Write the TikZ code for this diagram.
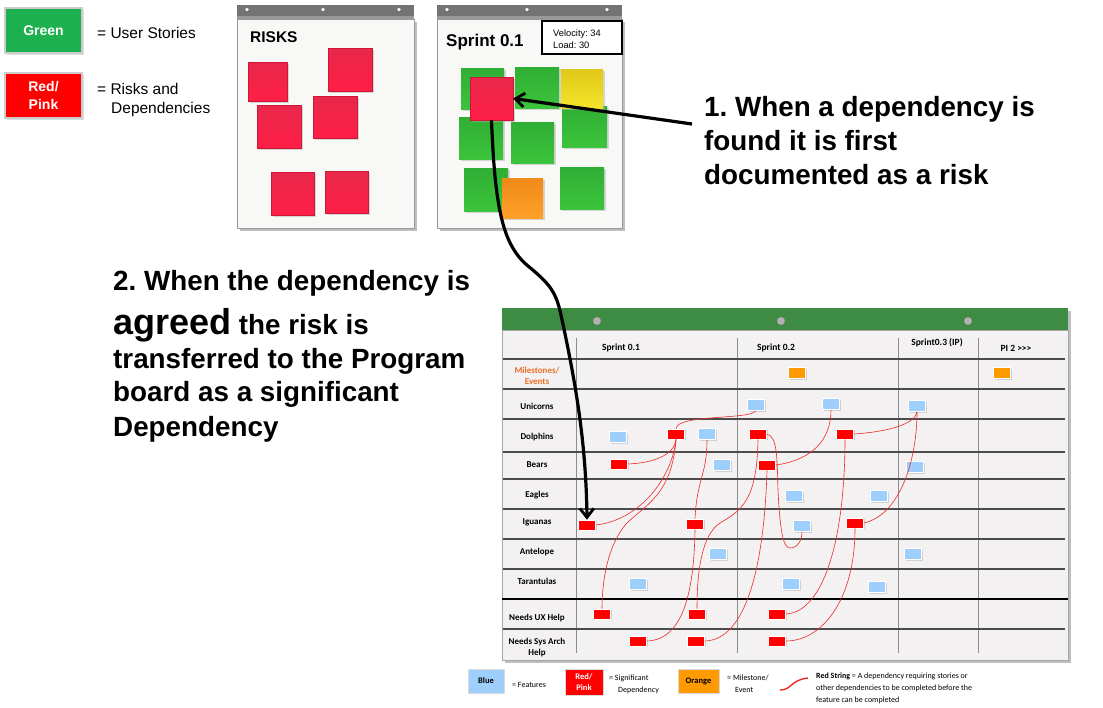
\documentclass[tikz,border=0pt]{standalone}
\usepackage{fontspec}
\setmainfont{Liberation Sans}
\newfontfamily\calfont{Carlito}
\usetikzlibrary{arrows.meta,shadows,calc}
\frenchspacing
\definecolor{legendgreen}{HTML}{1DB04F}
\definecolor{stickyred}{HTML}{FF1E46}
\definecolor{stickyredtop}{HTML}{E8284A}
\definecolor{stickygreen}{HTML}{3CC43C}
\definecolor{stickygreentop}{HTML}{2FAE34}
\definecolor{stickyyellow}{HTML}{F5E52A}
\definecolor{stickyyellowtop}{HTML}{E0C81A}
\definecolor{stickyorange}{HTML}{FFA02A}
\definecolor{stickyorangetop}{HTML}{F08A18}
\definecolor{boardgreen}{HTML}{3E8B43}
\definecolor{boardbg}{HTML}{F3F1F1}
\definecolor{cardblue}{HTML}{9ECFFC}
\definecolor{cardorange}{HTML}{FF9A00}
\definecolor{stringred}{HTML}{EE2A2A}
\definecolor{mileorange}{HTML}{E8702A}
\definecolor{flipbg}{HTML}{F8F8F6}
\tikzset{
  bigtext/.style={anchor=base west, inner sep=0, font=\bfseries\fontsize{27.8}{28}\selectfont},
  legtext/.style={anchor=base west, inner sep=0, font=\fontsize{15.5}{16}\selectfont},
  sticky/.style={inner sep=0, drop shadow={shadow xshift=1.5pt, shadow yshift=-1.5pt, fill=black!30}},
  redsticky/.style={sticky, top color=stickyredtop, bottom color=stickyred, draw=stickyred!80!black, line width=0.3pt},
  greensticky/.style={sticky, top color=stickygreentop, bottom color=stickygreen},
  card/.style={inner sep=0, minimum width=17pt, minimum height=11pt, draw=white, line width=0.6pt,
     drop shadow={shadow xshift=1.3pt, shadow yshift=-1.3pt, fill=black!30}},
  bluecard/.style={card, fill=cardblue},
  redcard/.style={card, fill=red, minimum height=10pt},
  orangecard/.style={card, fill=cardorange},
  redstring/.style={draw=stringred, line width=0.6pt},
  rowlabel/.style={anchor=base, inner sep=0, font=\calfont\bfseries\fontsize{9}{10}\selectfont},
  colhead/.style={anchor=base, inner sep=0, font=\calfont\bfseries\fontsize{9.5}{10}\selectfont},
  smalltext/.style={anchor=base west, inner sep=0, font=\calfont\fontsize{8}{9}\selectfont},
  bigarrow/.style={line width=3.2pt, -{Straight Barb[length=9pt,width=14pt,line width=2.8pt]}},
  hline/.style={draw=black!70, line width=1.1pt},
  vline/.style={draw=black!45, line width=0.8pt},
}
\begin{document}
\begin{tikzpicture}[x=1pt,y=-1pt]
\useasboundingbox[fill=white] (0,0) rectangle (1103,707);

% ---------- top-left legend ----------
\node[draw=black!20, line width=2pt, fill=legendgreen, minimum width=77pt, minimum height=45pt,
  drop shadow={shadow xshift=1.5pt,shadow yshift=-1.5pt,fill=black!25},
  text=white, font=\bfseries\fontsize{14}{15}\selectfont] (lgreen) at (43.5,30.5) {Green};
\node[legtext] (lgreentxt) at (97,38) {= User Stories};
\node[draw=black!20, line width=2pt, fill=red, minimum width=77pt, minimum height=45pt,
  drop shadow={shadow xshift=1.5pt,shadow yshift=-1.5pt,fill=black!25},
  text=white, align=center, font=\bfseries\fontsize{14}{18}\selectfont] (lred) at (43.5,95.5) {Red/\\Pink};
\node[legtext] (lredtxt1) at (97,94) {= Risks and};
\node[legtext] (lredtxt2) at (111,113) {Dependencies};

% ---------- RISKS flip chart ----------
\fill[black!25] (240,22) rectangle (417,231);
\fill[flipbg, draw=black!40, line width=0.8pt] (237,19) rectangle (414,228);
\fill[black!55] (237,5) rectangle (414,19);
\fill[black!40] (237,16) rectangle (414,19);
\foreach \x in {247,323,399} \fill[white] (\x,9.5) circle (1.8);
\node[anchor=base west, inner sep=0, font=\bfseries\fontsize{15.5}{16}\selectfont] (risks) at (250,42) {RISKS};
\node[redsticky, minimum width=39pt, minimum height=39pt] (rk1) at (267.5,81.5) {};
\node[redsticky, minimum width=44pt, minimum height=43pt] (rk2) at (350,69.5) {};
\node[redsticky, minimum width=44pt, minimum height=43pt] (rk3) at (279,126.5) {};
\node[redsticky, minimum width=44pt, minimum height=42pt] (rk4) at (335,117) {};
\node[redsticky, minimum width=43pt, minimum height=43pt] (rk5) at (292.5,193.5) {};
\node[redsticky, minimum width=43pt, minimum height=42pt] (rk6) at (346.5,192) {};

% ---------- Sprint 0.1 flip chart ----------
\fill[black!25] (440,22) rectangle (625,231);
\fill[flipbg, draw=black!40, line width=0.8pt] (437,19) rectangle (622,228);
\fill[black!55] (437,5) rectangle (622,19);
\fill[black!40] (437,16) rectangle (622,19);
\foreach \x in {447,527,607} \fill[white] (\x,9.5) circle (1.8);
\node[anchor=base west, inner sep=0, font=\bfseries\fontsize{17}{18}\selectfont] (sprint) at (446,46) {Sprint 0.1};
\node[draw=black, line width=1.2pt, fill=white, minimum width=80pt, minimum height=33pt, inner sep=0] (velbox) at (582,37.5) {};
\node[anchor=base west, inner sep=0, font=\fontsize{9.3}{10}\selectfont] (vel) at (553,36) {Velocity: 34};
\node[anchor=base west, inner sep=0, font=\fontsize{9.3}{10}\selectfont] (load) at (553,48) {Load: 30};
\node[greensticky, minimum width=43pt, minimum height=41pt] (g1) at (482.5,88.5) {};
\node[greensticky, minimum width=44pt, minimum height=41pt] (g2) at (537,87.5) {};
\node[greensticky, minimum width=45pt, minimum height=41pt] (g3) at (584.5,126.5) {};
\node[sticky, top color=stickyyellowtop, bottom color=stickyyellow, minimum width=42pt, minimum height=39pt] (yl) at (582,88.5) {};
\node[greensticky, minimum width=44pt, minimum height=42pt] (g4) at (481,138) {};
\node[greensticky, minimum width=43pt, minimum height=41pt] (g5) at (532.5,142.5) {};
\node[greensticky, minimum width=44pt, minimum height=43pt] (g6) at (486,189.5) {};
\node[sticky, top color=stickyorangetop, bottom color=stickyorange, minimum width=41pt, minimum height=40pt] (or) at (522.5,198) {};
\node[greensticky, minimum width=44pt, minimum height=42pt] (g7) at (582,188) {};
\node[redsticky, minimum width=43pt, minimum height=43pt] (rs) at (491.5,98.5) {};

% ---------- texts ----------
\node[bigtext] (t1a) at (704,116) {1. When a dependency is};
\node[bigtext] (t1b) at (704,150) {found it is first};
\node[bigtext] (t1c) at (704,184) {documented as a risk};

\node[bigtext] (t2a) at (113,290) {2. When the dependency is};
\node[bigtext] (t2b) at (113,334) {{\fontsize{36}{36}\selectfont agreed} the risk is};
\node[bigtext] (t2c) at (113,368) {transferred to the Program};
\node[bigtext] (t2d) at (113,401) {board as a significant};
\node[bigtext] (t2e) at (113,436) {Dependency};

% ---------- Program board ----------
\fill[black!25] (505,311) rectangle (1071,663);
\fill[boardbg, draw=black!35, line width=0.8pt] (502,330) rectangle (1068,660);
\fill[boardgreen] (502,308) rectangle (1068,330);
\foreach \x in {597,781,968} \fill[black!30, draw=black!45, line width=0.4pt] (\x,321) circle (4);

\foreach \x in {576,737,898,978} \draw[vline] (\x,338) -- (\x,653);
\foreach \y in {359,389,419,452,479,509,539,569,629} \draw[hline] (503,\y) -- (1065,\y);
\draw[black, line width=2.6pt] (502,599) -- (1068,599);

\node[colhead] (c1) at (621,350) {Sprint 0.1};
\node[colhead] (c2) at (776,350) {Sprint 0.2};
\node[colhead] (c3) at (937,345) {Sprint0.3 (IP)};
\node[colhead] (c4) at (1016,351) {PI 2 >>>};

\node[rowlabel, text=mileorange] (rm1) at (537,373) {Milestones/};
\node[rowlabel, text=mileorange] (rm2) at (537,384.5) {Events};
\node[rowlabel] (ru) at (537,409) {Unicorns};
\node[rowlabel] (rd) at (537,439) {Dolphins};
\node[rowlabel] (rb) at (537,467) {Bears};
\node[rowlabel] (re) at (537,497) {Eagles};
\node[rowlabel] (ri) at (537,524) {Iguanas};
\node[rowlabel] (ra) at (537,554) {Antelope};
\node[rowlabel] (rt) at (537,584) {Tarantulas};
\node[rowlabel] (rux) at (537,620) {Needs UX Help};
\node[rowlabel] (rsa1) at (537,644) {Needs Sys Arch};
\node[rowlabel] (rsa2) at (537,655.5) {Help};

% cards
\node[orangecard] (m1) at (797,373) {};
\node[orangecard] (m2) at (1002,373) {};
\node[bluecard] (u1) at (756,405) {};
\node[bluecard] (u2) at (831,404) {};
\node[bluecard] (u3) at (917,406) {};
\node[bluecard] (db1) at (618,437) {};
\node[redcard] (dr1) at (676,434) {};
\node[bluecard] (db2) at (707,434) {};
\node[redcard] (dr2) at (758,434) {};
\node[redcard] (dr3) at (845,434) {};
\node[redcard] (br1) at (619,464) {};
\node[bluecard] (bb1) at (722,465) {};
\node[redcard] (br2) at (767,465) {};
\node[bluecard] (bb2) at (915,467) {};
\node[bluecard] (eb1) at (794,496) {};
\node[bluecard] (eb2) at (879,496) {};
\node[redcard] (ir1) at (587,525) {};
\node[redcard] (ir2) at (695,524) {};
\node[bluecard] (ib1) at (802,526) {};
\node[redcard] (ir3) at (855,523) {};
\node[bluecard] (ab1) at (718,554) {};
\node[bluecard] (ab2) at (913,554) {};
\node[bluecard] (tb1) at (638,584) {};
\node[bluecard] (tb2) at (791,584) {};
\node[bluecard] (tb3) at (877,587) {};
\node[redcard] (ux1) at (602,614) {};
\node[redcard] (ux2) at (697,614) {};
\node[redcard] (ux3) at (777,614) {};
\node[redcard] (sa1) at (638,641) {};
\node[redcard] (sa2) at (696,641) {};
\node[redcard] (sa3) at (777,641) {};

% red strings
\draw[redstring] (dr1.north) .. controls (677,414) and (750,420) .. (u1.south);
\draw[redstring] (br1.east) .. controls (652,463) and (674,456) .. (dr1.south);
\draw[redstring] (ir1.east) .. controls (640,520) and (672,478) .. (dr1.south);
\draw[redstring] (dr1.south) .. controls (672,495) and (645,505) .. (626,524) .. controls (608,545) and (602,580) .. (ux1.north);
\draw[redstring] (db2.south) .. controls (707,475) and (697,478) .. (ir2.north);
\draw[redstring] (ir2.south) .. controls (694,595) and (682,640) .. (sa1.east);
\draw[redstring] (dr2.south) .. controls (757,500) and (742,510) .. (720,523) .. controls (702,535) and (697,570) .. (ux2.north);
\draw[redstring] (br2.south) .. controls (764,570) and (745,640) .. (sa2.east);
\draw[redstring] (dr2.east) .. controls (778,436) and (777,462) .. (778,490) .. controls (780,530) and (783,548) .. (790,548) .. controls (798,548) and (802,540) .. (ib1.south);
\draw[redstring] (br2.east) .. controls (812,460) and (831,440) .. (u2.south);
\draw[redstring] (dr3.east) .. controls (885,432) and (915,425) .. (u3.south);
\draw[redstring] (ir3.east) .. controls (900,515) and (917,460) .. (u3.south);
\draw[redstring] (dr3.south) .. controls (845,535) and (825,612) .. (ux3.east);
\draw[redstring] (ir3.south) .. controls (855,600) and (822,641) .. (sa3.east);

% ---------- bottom legend ----------
\node[draw=black!15, line width=1pt, fill=cardblue, minimum width=36pt, minimum height=24pt, inner sep=0,
  drop shadow={shadow xshift=1.2pt,shadow yshift=-1.2pt,fill=black!25},
  font=\calfont\bfseries\fontsize{8.5}{9}\selectfont] (lb) at (486,681) {Blue};
\node[smalltext] (lbt) at (512,687) {= Features};
\node[draw=black!15, line width=1pt, fill=red, minimum width=38pt, minimum height=26pt, inner sep=0,
  drop shadow={shadow xshift=1.2pt,shadow yshift=-1.2pt,fill=black!25}, text=white, align=center,
  font=\calfont\bfseries\fontsize{8.5}{11}\selectfont] (lr) at (584,682) {Red/\\Pink};
\node[smalltext] (lrt1) at (609,680) {= Significant};
\node[smalltext] (lrt2) at (618,692) {Dependency};
\node[draw=black!15, line width=1pt, fill=cardorange, minimum width=41pt, minimum height=24pt, inner sep=0,
  drop shadow={shadow xshift=1.2pt,shadow yshift=-1.2pt,fill=black!25},
  font=\calfont\bfseries\fontsize{8.5}{9}\selectfont] (lo) at (698.5,681) {Orange};
\node[smalltext] (lot1) at (727,680) {= Milestone/};
\node[smalltext] (lot2) at (735,692) {Event};
\coordinate (sq1) at (780,690);
\coordinate (sq2) at (808,678);
\draw[redstring, line width=1.4pt] (sq1) .. controls (792,690) and (790,680) .. (sq2);
\node[smalltext] (rst1) at (816,678) {\textbf{Red String} = A dependency requiring stories or};
\node[smalltext] (rst2) at (816,690) {other dependencies to be completed before the};
\node[smalltext] (rst3) at (816,702) {feature can be completed};

% ---------- black arrows ----------
\coordinate (a1s) at (692,124);
\draw[bigarrow] (a1s) -- (rs.east);
\draw[bigarrow] (rs.south) .. controls (495,210) and (503,245) .. (528,266) .. controls (550,284) and (556,292) .. (561,315) .. controls (575,380) and (586,440) .. (ir1.north);
\end{tikzpicture}
\end{document}
